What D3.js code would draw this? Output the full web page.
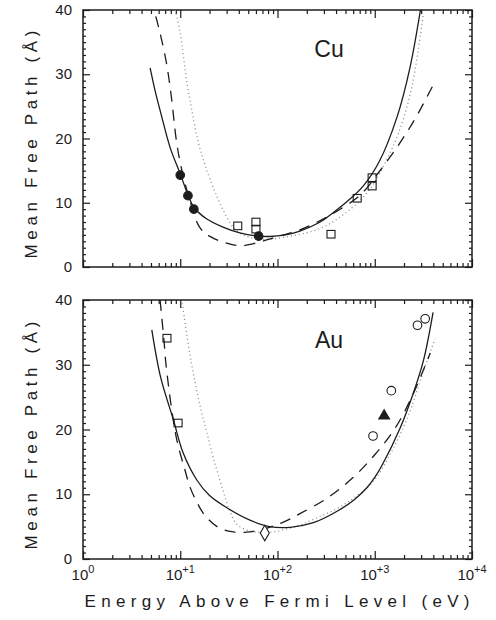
<!DOCTYPE html>
<html>
<head>
<meta charset="utf-8">
<script src="https://cdn.jsdelivr.net/npm/d3@7"></script>
<style>
  body { margin: 0; background: #fff; }
  svg { display: block; font-family: 'Liberation Sans', Arial, sans-serif; }
</style>
</head>
<body>
<div id="chart"></div>
<script>
// energies in eV, mean free path in Angstrom
const cuSolid = [[4.9, 31], [5.5, 27.5], [6.3, 24], [7.9, 18.5], [10, 14.5], [12, 11.2], [13.8, 9.3], [18.6, 7.5], [27.5, 6.2], [41, 5.3], [60, 4.85], [83, 4.75], [120, 5.0], [170, 5.6], [275, 7.0], [370, 8.4], [530, 10.3], [760, 12.6], [1120, 16.5], [1700, 23.4], [2300, 31], [2950, 40]]
const cuDashed = [[5.6, 39], [6.2, 36.4], [7.2, 31.8], [8.1, 26.5], [9.1, 19.8], [10.2, 15.6], [12.6, 10.3], [15.8, 6.2], [20, 4.8], [30, 3.7], [43, 3.3], [66, 3.9], [89, 4.5], [158, 5.6], [250, 6.9], [400, 8.6], [710, 11.2], [1120, 14.9], [1740, 18.9], [2630, 23.2], [3980, 28.3]]
const cuDotted = [[8.9, 40], [10, 36.4], [11.7, 28.7], [12.6, 26], [15.1, 19.8], [18.6, 15.2], [24, 10.9], [30, 7.8], [38, 5.6], [52, 4.6], [71, 4.3], [115, 4.6], [275, 6.0], [480, 8.2], [830, 11.5], [1200, 15.4], [1820, 21.5], [2450, 28.6], [3160, 39.5]]
const cuFilledCircles = [[10, 14.3], [12, 11.1], [13.8, 9.0], [64, 4.8]]
const cuSquares = [[39, 6.4], [60, 7.0], [60, 5.9], [355, 5.1], [660, 10.7], [940, 13.9], [940, 12.6]]

const auSolid = [[5.1, 35.4], [6.3, 28], [8.5, 21.5], [10.7, 16.4], [14.8, 12.2], [20, 9.8], [31, 7.8], [52, 6.0], [83, 5.0], [135, 4.9], [234, 5.6], [436, 7.6], [620, 9.2], [830, 11], [1000, 12.6], [1200, 14.6], [1820, 20.2], [2450, 25.3], [3160, 30.6], [3980, 38.1]]
const auDashed = [[6.2, 40], [6.8, 33.8], [7.2, 29.5], [9.1, 18.8], [11.2, 13.7], [12.6, 11.1], [14.8, 8.8], [17.8, 6.8], [24.5, 4.9], [35, 4.2], [52, 4.2], [83, 4.9], [115, 5.7], [170, 7.0], [324, 9.4], [590, 12.5], [1000, 16.1], [1620, 20.2], [2450, 25.3], [3720, 31.8]]
const auDotted = [[10.5, 39.5], [12.6, 31.5], [15.8, 24], [18.6, 19.8], [21.9, 15.6], [27.5, 10.6], [32, 7.6], [38, 5.4], [50, 4.4], [71, 4.1], [100, 4.3], [158, 5.1], [250, 6.3], [470, 8.3], [950, 11.9], [1550, 17.1], [2290, 22.7], [3160, 29], [4170, 34]]
const auSquares = [[7.3, 34.1], [9.5, 21]]
const auDiamonds = [[74, 4.0]]
const auOpenCircles = [[960, 19], [1480, 26], [2750, 36.1], [3300, 37.1]]
const auTriangles = [[1250, 22.1]]

const yTicks = [0, 10, 20, 30, 40]
const xDecades = [1, 10, 100, 1000, 10000]
const xTickLabels = ['0', '+1', '+2', '+3', '+4']

const width = 496
const height = 620
const ink = '#1c1c1c'

const svg = d3.select('#chart').append('svg')
  .attr('width', width)
  .attr('height', height)

const x = d3.scaleLog().domain([1, 10000]).range([83, 472])

const minorX = []
for (let d = 1; d < 10000; d *= 10) {
  for (let k = 2; k <= 9; k++) minorX.push(d * k)
}
const minorY = d3.range(0, 41, 1).filter(v => v % 10 !== 0)

function drawPanel({ id, top, bottom, label, labelY, curves, markers, showXLabels }) {
  const y = d3.scaleLinear().domain([0, 40]).range([bottom, top])
  const g = svg.append('g').attr('class', 'panel-' + id)

  g.append('clipPath').attr('id', 'clip-' + id)
    .append('rect')
    .attr('x', x.range()[0]).attr('y', top)
    .attr('width', x.range()[1] - x.range()[0]).attr('height', bottom - top)

  // ticks, all pointing inward
  const axes = [
    [d3.axisBottom(x).tickValues(minorX).tickSize(-4), bottom, 'x'],
    [d3.axisBottom(x).tickValues(xDecades).tickSize(-8), bottom, 'x'],
    [d3.axisTop(x).tickValues(minorX).tickSize(-4), top, 'x'],
    [d3.axisTop(x).tickValues(xDecades).tickSize(-8), top, 'x'],
    [d3.axisLeft(y).tickValues(minorY).tickSize(-3), x.range()[0], 'y'],
    [d3.axisLeft(y).tickValues(yTicks).tickSize(-7), x.range()[0], 'y'],
    [d3.axisRight(y).tickValues(minorY).tickSize(-3), x.range()[1], 'y'],
    [d3.axisRight(y).tickValues(yTicks).tickSize(-7), x.range()[1], 'y']
  ]
  axes.forEach(([axis, pos, dir]) => {
    const a = g.append('g')
      .attr('transform', dir === 'x' ? `translate(0,${pos})` : `translate(${pos},0)`)
      .call(axis.tickFormat(''))
    a.select('.domain').remove()
    a.selectAll('line').attr('stroke', ink).attr('stroke-width', 1.2)
  })

  g.append('rect')
    .attr('x', x.range()[0]).attr('y', top)
    .attr('width', x.range()[1] - x.range()[0]).attr('height', bottom - top)
    .attr('fill', 'none').attr('stroke', ink).attr('stroke-width', 1.5)

  g.selectAll('.ylab').data(yTicks).enter().append('text')
    .attr('class', 'ylab')
    .attr('x', 72).attr('y', d => y(d) + 5)
    .attr('text-anchor', 'end')
    .attr('font-size', 15)
    .attr('fill', ink)
    .text(d => d)

  if (showXLabels) {
    const lab = g.selectAll('.xlab').data(xDecades).enter().append('text')
      .attr('class', 'xlab')
      .attr('x', d => x(d)).attr('y', bottom + 21)
      .attr('text-anchor', 'middle')
      .attr('font-size', 15)
      .attr('fill', ink)
    lab.append('tspan').text('10')
    lab.append('tspan').attr('dy', -7).attr('font-size', 11)
      .text((d, i) => xTickLabels[i])
  }

  g.append('text')
    .attr('x', 329).attr('y', labelY)
    .attr('text-anchor', 'middle')
    .attr('font-size', 23)
    .attr('fill', ink)
    .text(label)

  g.append('text')
    .attr('transform', `translate(37,${(top + bottom) / 2 + 6}) rotate(-90)`)
    .attr('text-anchor', 'middle')
    .attr('font-size', 17)
    .attr('textLength', 228)
    .attr('lengthAdjust', 'spacing')
    .attr('fill', ink)
    .text('Mean Free Path (Å)')

  const line = d3.line()
    .x(d => x(d[0]))
    .y(d => y(d[1]))
    .curve(d3.curveCatmullRom.alpha(0.5))

  const plot = g.append('g').attr('clip-path', `url(#clip-${id})`)
  curves.forEach(c => {
    plot.append('path')
      .datum(c.data)
      .attr('d', line)
      .attr('fill', 'none')
      .attr('stroke', c.color)
      .attr('stroke-width', c.width)
      .attr('stroke-dasharray', c.dash)
  })

  markers.forEach(m => {
    const sel = plot.selectAll('.m-' + m.kind).data(m.data).enter()
    if (m.kind === 'circle' || m.kind === 'ocircle') {
      sel.append('circle')
        .attr('cx', d => x(d[0])).attr('cy', d => y(d[1]))
        .attr('r', 4.3)
        .attr('fill', m.kind === 'circle' ? ink : '#fff')
        .attr('stroke', ink).attr('stroke-width', 1.1)
    } else if (m.kind === 'square') {
      sel.append('rect')
        .attr('x', d => x(d[0]) - 4).attr('y', d => y(d[1]) - 3.8)
        .attr('width', 8).attr('height', 7.6)
        .attr('fill', 'none')
        .attr('stroke', ink).attr('stroke-width', 1.1)
    } else {
      const type = m.kind === 'diamond' ? d3.symbolDiamond : d3.symbolTriangle
      sel.append('path')
        .attr('transform', d => `translate(${x(d[0])},${y(d[1])})`)
        .attr('d', d3.symbol().type(type).size(m.kind === 'diamond' ? 70 : 50))
        .attr('fill', m.kind === 'diamond' ? '#fff' : ink)
        .attr('stroke', ink).attr('stroke-width', 1.1)
    }
  })
}

drawPanel({
  id: 'cu', top: 10, bottom: 267, label: 'Cu', labelY: 57, showXLabels: false,
  curves: [
    { data: cuDotted, color: '#8a8a8a', width: 1.3, dash: '1,3' },
    { data: cuDashed, color: ink, width: 1.3, dash: '11,8' },
    { data: cuSolid, color: ink, width: 1.3, dash: null }
  ],
  markers: [
    { kind: 'square', data: cuSquares },
    { kind: 'circle', data: cuFilledCircles }
  ]
})

drawPanel({
  id: 'au', top: 300, bottom: 559, label: 'Au', labelY: 348, showXLabels: true,
  curves: [
    { data: auDotted, color: '#8a8a8a', width: 1.3, dash: '1,3' },
    { data: auDashed, color: ink, width: 1.3, dash: '11,8' },
    { data: auSolid, color: ink, width: 1.3, dash: null }
  ],
  markers: [
    { kind: 'square', data: auSquares },
    { kind: 'diamond', data: auDiamonds },
    { kind: 'ocircle', data: auOpenCircles },
    { kind: 'triangle', data: auTriangles }
  ]
})

svg.append('text')
  .attr('x', 277).attr('y', 607)
  .attr('text-anchor', 'middle')
  .attr('font-size', 17)
  .attr('textLength', 385)
  .attr('lengthAdjust', 'spacing')
  .attr('fill', ink)
  .text('Energy Above Fermi Level (eV)')
</script>
</body>
</html>
